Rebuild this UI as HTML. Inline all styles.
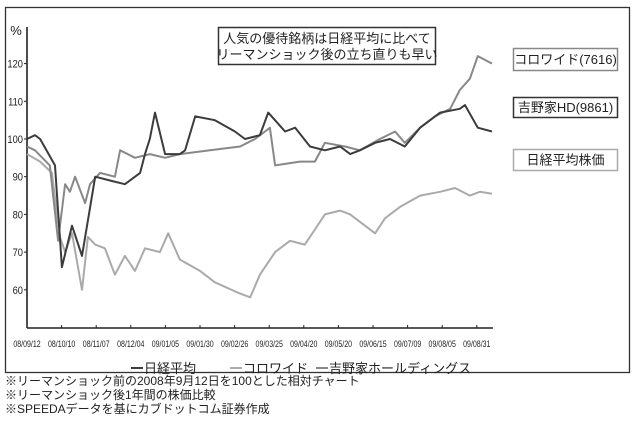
<!DOCTYPE html>
<html><head><meta charset="utf-8"><style>
body{margin:0;background:#fff;font-family:"Liberation Sans","Noto Sans CJK JP",sans-serif;}
#wrap{position:relative;width:640px;height:424px;overflow:hidden;background:#fff}
.note{position:absolute;left:5px;font-size:12px;color:#222;line-height:13px;white-space:nowrap}
</style></head><body>
<div id="wrap">
<svg id="chart" width="640" height="424" style="position:absolute;left:0;top:0"></svg>
<div class="note" style="top:375px">※リーマンショック前の2008年9月12日を100とした相対チャート</div>
<div class="note" style="top:389px">※リーマンショック後1年間の株価比較</div>
<div class="note" style="top:403px">※SPEEDAデータを基にカブドットコム証券作成</div>
</div>
<script>
const tickLabels=["08/09/12","08/10/10","08/11/07","08/12/04","09/01/05","09/01/30","09/02/26","09/03/25","09/04/20","09/05/20","09/06/15","09/07/09","09/08/05","09/08/31"];
const yTicks=[60,70,80,90,100,110,120];
const yoshX=[0,.23,.38,.81,1.01,1.3,1.59,1.97,2.4,2.83,3.27,3.41,3.55,3.7,3.99,4.42,4.57,4.86,5.43,6.01,6.3,6.73,6.97,7.46,7.75,8.18,8.61,9.05,9.34,9.62,10.06,10.49,10.92,11.36,11.94,12.51,12.66,13.03,13.44];
const yoshY=[100,101,100,93,66,77,69,90,89,88,91,96,100,107,96,96,97,106,105,102,100,101,107,102,103,98,97,98,96,97,99,100,98,103,107,108,109,103,102];
const coloX=[0,.23,.66,.9,1.1,1.24,1.39,1.68,1.82,2.11,2.54,2.69,3.12,3.55,3.99,4.42,5.29,6.16,6.59,6.88,7.02,7.17,7.89,8.32,8.61,9.19,9.62,10.2,10.64,10.92,11.36,11.79,12.23,12.51,12.8,13.03,13.44];
const coloY=[98,97,93,73,88,86,90,83,88,91,90,97,95,96,95,96,97,98,100,102,103,93,94,94,99,98,97,100,102,99,103,106,108,113,116,122,120];
const nikX=[0,.38,.72,.95,1.1,1.3,1.59,1.76,1.97,2.25,2.54,2.83,3.12,3.41,3.84,4.08,4.42,5.0,5.43,6.16,6.45,6.73,7.17,7.6,8.03,8.32,8.61,9.05,9.34,9.77,10.06,10.35,10.78,11.36,11.94,12.37,12.8,13.09,13.44];
const nikY=[96,94,91,74,70,75,60,74,72,71,64,69,65,71,70,75,68,65,62,59,58,64,70,73,72,76,80,81,80,77,75,79,82,85,86,87,85,86,85.5];

const NS="http://www.w3.org/2000/svg";
const svg=document.getElementById('chart');
const X0=27,PX=34.6,Y100=139,PY=3.77;
const xs=p=>X0+p*PX, ys=v=>Y100-(v-100)*PY;
function mk(tag,attrs,parent){const e=document.createElementNS(NS,tag);for(const k in attrs)e.setAttribute(k,attrs[k]);(parent||svg).appendChild(e);return e;}
// frame
let f=mk('rect',{x:5.5,y:7.5,width:624,height:365,fill:'none',stroke:'#333','stroke-width':1.3});


// axes
let ya=mk('line',{x1:X0,y1:27,x2:X0,y2:328,stroke:'#222','stroke-width':1.6});


let xa=mk('line',{x1:X0,y1:328,x2:493,y2:328,stroke:'#222','stroke-width':1.6});


let pct=mk('text',{x:16,y:35,'font-size':13,fill:'#222','text-anchor':'middle'});pct.textContent='%';


yTicks.forEach(v=>{
  let t=mk('line',{x1:X0-3,y1:ys(v),x2:X0,y2:ys(v),stroke:'#222'});
  
  
  let l=mk('text',{x:X0-4,y:ys(v)+4,'font-size':11,fill:'#222','text-anchor':'end',transform:`translate(${X0-4},0) scale(0.85,1) translate(${-(X0-4)},0)`});
  l.textContent=v;
  
  
});
tickLabels.forEach((s,i)=>{
  const x=xs(i);
  let t=mk('line',{x1:x,y1:325,x2:x,y2:328,stroke:'#222'});
  
  
  let l=mk('text',{x:0,y:0,'font-size':9.5,fill:'#222','text-anchor':'middle',transform:`translate(${x},${347}) scale(0.74,1)`});
  l.textContent=s;
  
  
});
function line(X,Y,color,w,name){
  const d=X.map((p,i)=>(i?'L':'M')+xs(p).toFixed(1)+','+ys(Y[i]).toFixed(1)).join('');
  let p=mk('path',{d:d,fill:'none',stroke:color,'stroke-width':w,'stroke-linejoin':'round'});
  
  
}
line(nikX,nikY,'#aaaaaa',2,'nikkei-line');
line(coloX,coloY,'#888888',2,'colowide-line');
line(yoshX,yoshY,'#3c3c3c',2,'yoshinoya-line');
// annotation box
let ab=mk('rect',{x:218.5,y:27.5,width:217,height:37,fill:'#fff',stroke:'#333','stroke-width':1.5});


[['人気の優待銘柄は日経平均に比べて',43],['リーマンショック後の立ち直りも早い',59]].forEach(([s,y])=>{
  let t=mk('text',{x:327,y:y,'font-size':13,fill:'#222','text-anchor':'middle'});t.textContent=s;
  
  
});
// right labels
[['コロワイド(7616)',48,22,'#888','colowide-label'],['吉野家HD(9861)',97,20,'#333','yoshinoya-label'],['日経平均株価',149,21,'#aaa','nikkei-label']].forEach(([s,y,h,c,n])=>{
  let r=mk('rect',{x:513.5,y:y+.5,width:104,height:h,fill:'#fff',stroke:c,'stroke-width':1.5});
  
  
  let t=mk('text',{x:565.5,y:y+h/2+5,'font-size':13,fill:'#222','text-anchor':'middle'});t.textContent=s;
  
  
});
// bottom legend
[['日経平均',131,'#3c3c3c'],['コロワイド',230,'#aaa'],['吉野家ホールディングス',316,'#888']].forEach(([s,x,c])=>{
  let l=mk('line',{x1:x,y1:368,x2:x+12,y2:368,stroke:c,'stroke-width':2});
  
  
  let t=mk('text',{x:x+13,y:373,'font-size':13,fill:'#222'});t.textContent=s;
  
  
});
</script>
</body></html>
